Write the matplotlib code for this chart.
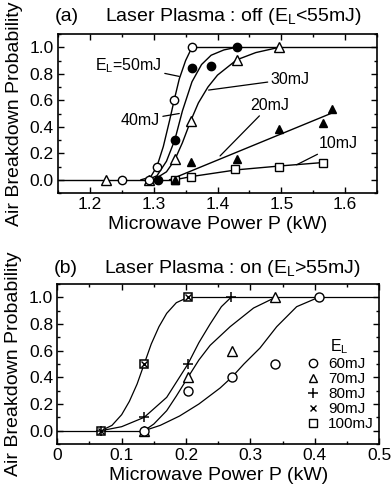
import numpy as np
import matplotlib.pyplot as plt
from matplotlib.lines import Line2D
from matplotlib.ticker import MultipleLocator

plt.rcParams['font.family'] = ['Liberation Sans', 'DejaVu Sans']
plt.rcParams['mathtext.fontset'] = 'custom'
plt.rcParams['mathtext.rm'] = 'Liberation Sans'
plt.rcParams['mathtext.it'] = 'Liberation Sans'

# ---- (a) laser plasma off: measured points ----
p50 = [1.25, 1.293, 1.305, 1.332, 1.36]
b50 = [0.0, 0.0, 0.10, 0.60, 1.0]
p40 = [1.307, 1.333, 1.36, 1.39, 1.43]
b40 = [0.0, 0.30, 0.845, 0.86, 1.0]
p30 = [1.225, 1.293, 1.333, 1.358, 1.43, 1.497]
b30 = [0.0, 0.0, 0.155, 0.445, 0.905, 1.0]
p20 = [1.333, 1.358, 1.43, 1.497, 1.566, 1.58]
b20 = [0.0, 0.135, 0.155, 0.38, 0.43, 0.535]
p10 = [1.333, 1.358, 1.428, 1.497, 1.565]
b10 = [0.0, 0.02, 0.08, 0.10, 0.13]

# fitted curves
f50x = [1.28, 1.295, 1.305, 1.315, 1.325, 1.332, 1.34, 1.35, 1.36]
f50y = [0.0, 0.02, 0.10, 0.25, 0.45, 0.60, 0.76, 0.90, 1.0]
f40x = [1.29, 1.305, 1.32, 1.333, 1.345, 1.36, 1.375, 1.39, 1.41, 1.43]
f40y = [0.0, 0.03, 0.14, 0.30, 0.52, 0.74, 0.87, 0.94, 0.98, 1.0]
f30x = [1.30, 1.32, 1.333, 1.345, 1.358, 1.37, 1.385, 1.40, 1.43, 1.46, 1.497]
f30y = [0.0, 0.06, 0.15, 0.28, 0.445, 0.58, 0.70, 0.79, 0.905, 0.96, 1.0]
f20x = [1.325, 1.58]
f20y = [0.0, 0.505]
f10x = [1.333, 1.36, 1.43, 1.50, 1.565]
f10y = [0.0, 0.025, 0.075, 0.105, 0.13]
base_a0 = [1.15, 1.333]
base_a1 = [1.36, 1.65]

# ---- (b) laser plasma on ----
p60 = [0.135, 0.203, 0.271, 0.339, 0.406]
b60 = [0.0, 0.3, 0.4, 0.5, 1.0]
p70 = [0.135, 0.203, 0.271, 0.339]
b70 = [0.0, 0.4, 0.6, 1.0]
p80 = [0.068, 0.135, 0.203, 0.270]
b80 = [0.0, 0.1, 0.5, 1.0]
p90 = [0.068, 0.135, 0.203]
b90 = [0.0, 0.5, 1.0]
p100 = [0.068, 0.135, 0.203]
b100 = [0.0, 0.5, 1.0]

g100x = [0.068, 0.085, 0.10, 0.112, 0.124, 0.135, 0.146, 0.158, 0.17, 0.185, 0.203]
g100y = [0.0, 0.04, 0.12, 0.22, 0.35, 0.50, 0.65, 0.78, 0.88, 0.96, 1.0]
g80x = [0.068, 0.10, 0.135, 0.17, 0.203, 0.22, 0.2375, 0.255, 0.27]
g80y = [0.0, 0.03, 0.10, 0.25, 0.50, 0.66, 0.80, 0.93, 1.0]
g70x = [0.135, 0.15, 0.17, 0.185, 0.203, 0.22, 0.2375, 0.2686, 0.305, 0.339]
g70y = [0.0, 0.05, 0.15, 0.26, 0.40, 0.53, 0.64, 0.78, 0.92, 1.0]
g60x = [0.135, 0.16, 0.19, 0.22, 0.253, 0.271, 0.29, 0.315, 0.341, 0.372, 0.406]
g60y = [0.0, 0.04, 0.11, 0.20, 0.32, 0.40, 0.50, 0.62, 0.78, 0.93, 1.0]
base_b0 = [0.0, 0.135]
base_b1 = [0.203, 0.5]

fig = plt.figure(figsize=(3.92, 4.84), dpi=100)
ax1 = fig.add_axes([0.148, 0.6012, 0.8138, 0.3285])
ax2 = fig.add_axes([0.1462, 0.0826, 0.8207, 0.3306])

lw = 1.0
ms = 6
fs = 12.5
lfs = 14

def style(ax):
    ax.tick_params(which='both', direction='in', top=True, right=True,
                   labelsize=fs, width=1.0, pad=3)
    ax.tick_params(which='major', length=4.5)
    ax.tick_params(which='minor', length=2.5)
    for s in ax.spines.values():
        s.set_linewidth(1.2)
    ax.yaxis.set_major_locator(MultipleLocator(0.2))
    ax.yaxis.set_minor_locator(MultipleLocator(0.1))
    ax.xaxis.set_minor_locator(MultipleLocator(0.05))
    ax.set_ylim(-0.1, 1.1)
    ax.set_xlabel('Microwave Power P (kW)', fontsize=lfs, labelpad=2.5)
    ax.set_ylabel('Air Breakdown Probability', fontsize=lfs)
    ax.yaxis.set_label_coords(-0.11, 0.5)

# panel (a)
ax = ax1
for x, y in [(f50x, f50y), (f40x, f40y), (f30x, f30y), (f20x, f20y),
             (f10x, f10y), (base_a0, [0, 0]), (base_a1, [1, 1])]:
    ax.plot(x, y, '-', color='black', lw=lw, zorder=1)
ax.plot(p10, b10, 's', ms=ms, mfc='white', mec='black', mew=1.0, zorder=3)
ax.plot(p20, b20, '^', ms=ms, mfc='black', mec='black', mew=1.0, zorder=3)
ax.plot(p30, b30, '^', ms=ms + 0.5, mfc='white', mec='black', mew=1.0, zorder=3)
ax.plot(p40, b40, 'o', ms=ms, mfc='black', mec='black', mew=1.0, zorder=3)
ax.plot(p50, b50, 'o', ms=ms, mfc='white', mec='black', mew=1.0, zorder=3)
style(ax)
ax.set_xlim(1.15, 1.65)
ax.xaxis.set_major_locator(MultipleLocator(0.1))

arr = dict(arrowstyle='-', lw=0.9, color='black', shrinkA=0, shrinkB=0)
tfs = 11.5
ax.annotate('E$_\\mathregular{L}$=50mJ', xy=(1.34, 0.78), xytext=(1.313, 0.86),
            ha='right', va='center', fontsize=tfs, arrowprops=arr)
ax.annotate('40mJ', xy=(1.34, 0.50), xytext=(1.310, 0.45),
            ha='right', va='center', fontsize=tfs, arrowprops=arr)
ax.annotate('30mJ', xy=(1.386, 0.677), xytext=(1.483, 0.76),
            ha='left', va='center', fontsize=tfs, arrowprops=arr)
ax.annotate('20mJ', xy=(1.404, 0.18), xytext=(1.451, 0.56),
            ha='left', va='center', fontsize=tfs, arrowprops=arr)
ax.annotate('10mJ', xy=(1.524, 0.113), xytext=(1.558, 0.27),
            ha='left', va='center', fontsize=tfs, arrowprops=arr)
ax.text(-0.01, 1.082, '(a)', transform=ax.transAxes, fontsize=14, va='baseline')
ax.text(0.147, 1.082, 'Laser Plasma : off (E$_\\mathregular{L}$<55mJ)',
        transform=ax.transAxes, fontsize=14, va='baseline')

# panel (b)
ax = ax2
for x, y in [(g100x, g100y), (g80x, g80y), (g70x, g70y), (g60x, g60y),
             (base_b0, [0, 0]), (base_b1, [1, 1])]:
    ax.plot(x, y, '-', color='black', lw=0.9, zorder=1)
ax.plot(p100, b100, 's', ms=ms, mfc='white', mec='black', mew=1.1, zorder=3)
ax.plot(p90, b90, 'x', ms=4, mec='black', mew=1.0, zorder=4)
ax.plot(p80, b80, '+', ms=7.5, mec='black', mew=1.1, zorder=4)
ax.plot(p70, b70, '^', ms=ms + 0.5, mfc='white', mec='black', mew=1.0, zorder=3)
ax.plot(p60, b60, 'o', ms=ms + 0.5, mfc='white', mec='black', mew=1.0, zorder=3)
style(ax)
ax.set_xlim(0, 0.5)
ax.set_xticks([0, 0.1, 0.2, 0.3, 0.4, 0.5])
ax.set_xticklabels(['0', '0.1', '0.2', '0.3', '0.4', '0.5'])

handles = [
    Line2D([], [], ls='', marker='o', ms=ms, mfc='white', mec='black', mew=1.0),
    Line2D([], [], ls='', marker='^', ms=ms, mfc='white', mec='black', mew=1.0),
    Line2D([], [], ls='', marker='+', ms=7, mec='black', mew=1.1),
    Line2D([], [], ls='', marker='x', ms=4, mec='black', mew=1.0),
    Line2D([], [], ls='', marker='s', ms=ms, mfc='white', mec='black', mew=1.0),
]
labels = ['60mJ', '70mJ', '80mJ', '90mJ', '100mJ']
leg = ax.legend(handles, labels, title='E$_\\mathregular{L}$', frameon=False,
                fontsize=11, title_fontsize=11.5, loc='lower left',
                bbox_to_anchor=(0.77, 0.08), handlelength=1.0,
                handletextpad=0.5, labelspacing=0.07, borderpad=0,
                borderaxespad=0)
leg._legend_box.align = 'center'
ax.text(-0.01, 1.069, '(b)', transform=ax.transAxes, fontsize=14, va='baseline')
ax.text(0.146, 1.069, 'Laser Plasma : on (E$_\\mathregular{L}$>55mJ)',
        transform=ax.transAxes, fontsize=14, va='baseline')

fig.savefig('out.png', dpi=100)
